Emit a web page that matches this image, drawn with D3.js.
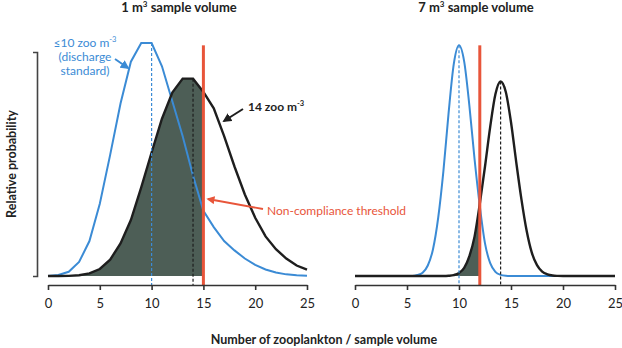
<!DOCTYPE html>
<html>
<head>
<meta charset="utf-8">
<script src="https://cdn.jsdelivr.net/npm/d3@7"></script>
<style>
  body { margin: 0; background: #fff; }
  svg { display: block; font-family: Lato, "Open Sans", sans-serif; }
</style>
</head>
<body>
<svg id="chart" width="622" height="348"></svg>
<script>
// left panel: 1 m3, counts 0..25 (relative probability, blue peak = 1)
const countsLeft = [0, 1, 2, 3, 4, 5, 6, 7, 8, 9, 10, 11, 12, 13, 14, 15, 16, 17, 18, 19, 20, 21, 22, 23, 24, 25];
const blueLeft = [0.0004, 0.004, 0.018, 0.06, 0.15, 0.31, 0.52, 0.74, 0.92, 1.0, 1.0, 0.90, 0.75, 0.60, 0.43, 0.28,
  0.21, 0.15, 0.11, 0.075, 0.048, 0.028, 0.015, 0.007, 0.003, 0.001];
const blackLeft = [0, 0.0001, 0.0006, 0.003, 0.011, 0.03, 0.07, 0.14, 0.24, 0.38, 0.53, 0.675, 0.787, 0.847, 0.847, 0.79,
  0.72, 0.60, 0.47, 0.35, 0.25, 0.17, 0.115, 0.075, 0.045, 0.027];

// right panel: 7 m3, per-m3 concentration
const xRight = [0, 5, 5.5, 6, 6.5, 7, 7.5, 8, 8.5, 9, 9.5, 10, 10.5, 11, 11.5, 12, 12.5, 13, 13.5, 14, 14.5, 15,
  15.5, 16, 16.5, 17, 17.5, 18, 18.5, 19, 19.5, 20, 25];
const blueRight = [0, 0, 0, 0.004, 0.014, 0.045, 0.115, 0.25, 0.45, 0.70, 0.91, 0.99, 0.92, 0.73, 0.50, 0.30, 0.14,
  0.055, 0.018, 0.005, 0.001, 0, 0, 0, 0, 0, 0, 0, 0, 0, 0, 0, 0];
const blackRight = [0, 0, 0, 0, 0, 0, 0, 0, 0, 0.001, 0.004, 0.013, 0.035, 0.085, 0.17, 0.31, 0.47, 0.64, 0.78, 0.835,
  0.79, 0.66, 0.49, 0.33, 0.195, 0.10, 0.047, 0.019, 0.007, 0.002, 0.0005, 0, 0];

const xTicks = [0, 5, 10, 15, 20, 25];
const standardMean = 10;
const testMean = 14;

const blue = '#3b8bd5';
const red = '#e8553a';
const black = '#1e1e1e';
const shade = '#4d5e56';

const svg = d3.select('#chart');
const baseY = 276, axisY = 285;
const y = d3.scaleLinear().domain([0, 1]).range([baseY, 43]);

const panels = [
  { id: 'l', range: [48, 307], xs: countsLeft, blue: blueLeft, black: blackLeft, curve: d3.curveLinear, thr: 15, vol: '1', titleX: 179 },
  { id: 'r', range: [355, 615], xs: xRight, blue: blueRight, black: blackRight, curve: d3.curveMonotoneX, thr: 12, vol: '7', titleX: 476 }
];

const defs = svg.append('defs');
[['arrBlue', blue], ['arrBlack', black], ['arrRed', red]].forEach(([id, c]) => {
  defs.append('marker')
    .attr('id', id)
    .attr('viewBox', '0 0 10 10')
    .attr('refX', 8).attr('refY', 5)
    .attr('markerWidth', 4.5).attr('markerHeight', 4.5)
    .attr('orient', 'auto')
    .append('path')
    .attr('d', 'M0,0L10,5L0,10Z')
    .attr('fill', c);
});

panels.forEach((p) => {
  const x = d3.scaleLinear().domain([0, 25]).range(p.range);
  const pts = (vals) => p.xs.map((v, i) => [v, vals[i]]);

  // shaded area under black curve up to threshold
  defs.append('clipPath').attr('id', 'clip-' + p.id)
    .append('rect')
    .attr('x', x(0) - 2).attr('y', 0)
    .attr('width', x(p.thr) - x(0) + 2).attr('height', baseY);

  const area = d3.area().x((d) => x(d[0])).y0(y(0)).y1((d) => y(d[1])).curve(p.curve);
  svg.append('path')
    .attr('d', area(pts(p.black)))
    .attr('fill', shade)
    .attr('clip-path', `url(#clip-${p.id})`);

  const line = d3.line().x((d) => x(d[0])).y((d) => y(d[1])).curve(p.curve);
  svg.append('path')
    .attr('d', line(pts(p.blue)))
    .attr('fill', 'none')
    .attr('stroke', blue)
    .attr('stroke-width', 2);
  svg.append('path')
    .attr('d', line(pts(p.black)))
    .attr('fill', 'none')
    .attr('stroke', black)
    .attr('stroke-width', 2.4);

  // mean markers
  svg.append('line')
    .attr('x1', x(standardMean)).attr('x2', x(standardMean))
    .attr('y1', y(d3.max(p.blue))).attr('y2', axisY)
    .attr('stroke', blue).attr('stroke-width', 1.2)
    .attr('stroke-dasharray', '3,2');
  svg.append('line')
    .attr('x1', x(testMean)).attr('x2', x(testMean))
    .attr('y1', y(d3.max(p.black))).attr('y2', axisY)
    .attr('stroke', black).attr('stroke-width', 1.2)
    .attr('stroke-dasharray', '3,2');

  // threshold
  svg.append('line')
    .attr('x1', x(p.thr)).attr('x2', x(p.thr))
    .attr('y1', y(0.99)).attr('y2', axisY)
    .attr('stroke', red).attr('stroke-width', 3);

  // x axis
  const ax = svg.append('g')
    .attr('transform', `translate(0,${axisY})`)
    .call(d3.axisBottom(x).tickValues(xTicks).tickSize(5).tickSizeOuter(0).tickPadding(9));
  ax.select('.domain').attr('stroke', '#333').attr('stroke-width', 1.6);
  ax.selectAll('.tick line').attr('stroke', '#333').attr('stroke-width', 1.6);
  ax.selectAll('.tick text')
    .attr('fill', '#222')
    .style('font-size', '13px')
    .style('font-family', 'Lato, sans-serif');

  // panel title
  const t = svg.append('text')
    .attr('x', p.titleX).attr('y', 12)
    .attr('text-anchor', 'middle')
    .attr('fill', '#222')
    .style('font-size', '13px')
    .style('font-weight', 'bold');
  t.append('tspan').text(p.vol + ' m');
  t.append('tspan').attr('dy', -5).style('font-size', '8px').text('3');
  t.append('tspan').attr('dy', 5).text(' sample volume');
});

// y bracket + label
const yb = svg.append('g')
  .attr('transform', 'translate(37,0)')
  .call(d3.axisLeft(d3.scaleLinear().range([baseY, 52])).ticks(0).tickSizeOuter(4));
yb.select('.domain').attr('stroke', '#444').attr('stroke-width', 1.6);

svg.append('text')
  .attr('transform', `translate(12,${(52 + baseY) / 2}) rotate(-90)`)
  .attr('text-anchor', 'middle')
  .attr('dy', '0.35em')
  .attr('fill', '#222')
  .style('font-size', '12.5px')
  .style('font-weight', 'bold')
  .text('Relative probability');

svg.append('text')
  .attr('x', 324).attr('y', 344)
  .attr('text-anchor', 'middle')
  .attr('fill', '#222')
  .style('font-size', '12.5px')
  .style('font-weight', 'bold')
  .text('Number of zooplankton / sample volume');

// annotations
const blueNote = svg.append('text')
  .attr('fill', blue)
  .attr('text-anchor', 'middle')
  .style('font-size', '12px');
const bl1 = blueNote.append('tspan').attr('x', 85).attr('y', 47);
bl1.append('tspan').text('≤10 zoo m');
bl1.append('tspan').attr('dy', -5).style('font-size', '7.5px').text('-3');
blueNote.append('tspan').attr('x', 85).attr('y', 61).text('(discharge');
blueNote.append('tspan').attr('x', 85).attr('y', 75).text('standard)');
svg.append('line')
  .attr('x1', 115).attr('y1', 59).attr('x2', 128).attr('y2', 68)
  .attr('stroke', blue).attr('stroke-width', 2)
  .attr('marker-end', 'url(#arrBlue)');

const blackNote = svg.append('text')
  .attr('x', 248).attr('y', 111)
  .attr('fill', black)
  .style('font-size', '12px')
  .style('font-weight', 'bold');
blackNote.append('tspan').text('14 zoo m');
blackNote.append('tspan').attr('dy', -5).style('font-size', '7.5px').text('-3');
svg.append('line')
  .attr('x1', 243).attr('y1', 109).attr('x2', 224).attr('y2', 121)
  .attr('stroke', black).attr('stroke-width', 2)
  .attr('marker-end', 'url(#arrBlack)');

svg.append('text')
  .attr('x', 267).attr('y', 215)
  .attr('fill', red)
  .style('font-size', '12px')
  .text('Non-compliance threshold');
svg.append('line')
  .attr('x1', 263).attr('y1', 209).attr('x2', 208).attr('y2', 199)
  .attr('stroke', red).attr('stroke-width', 1.8)
  .attr('marker-end', 'url(#arrRed)');
</script>
</body>
</html>
